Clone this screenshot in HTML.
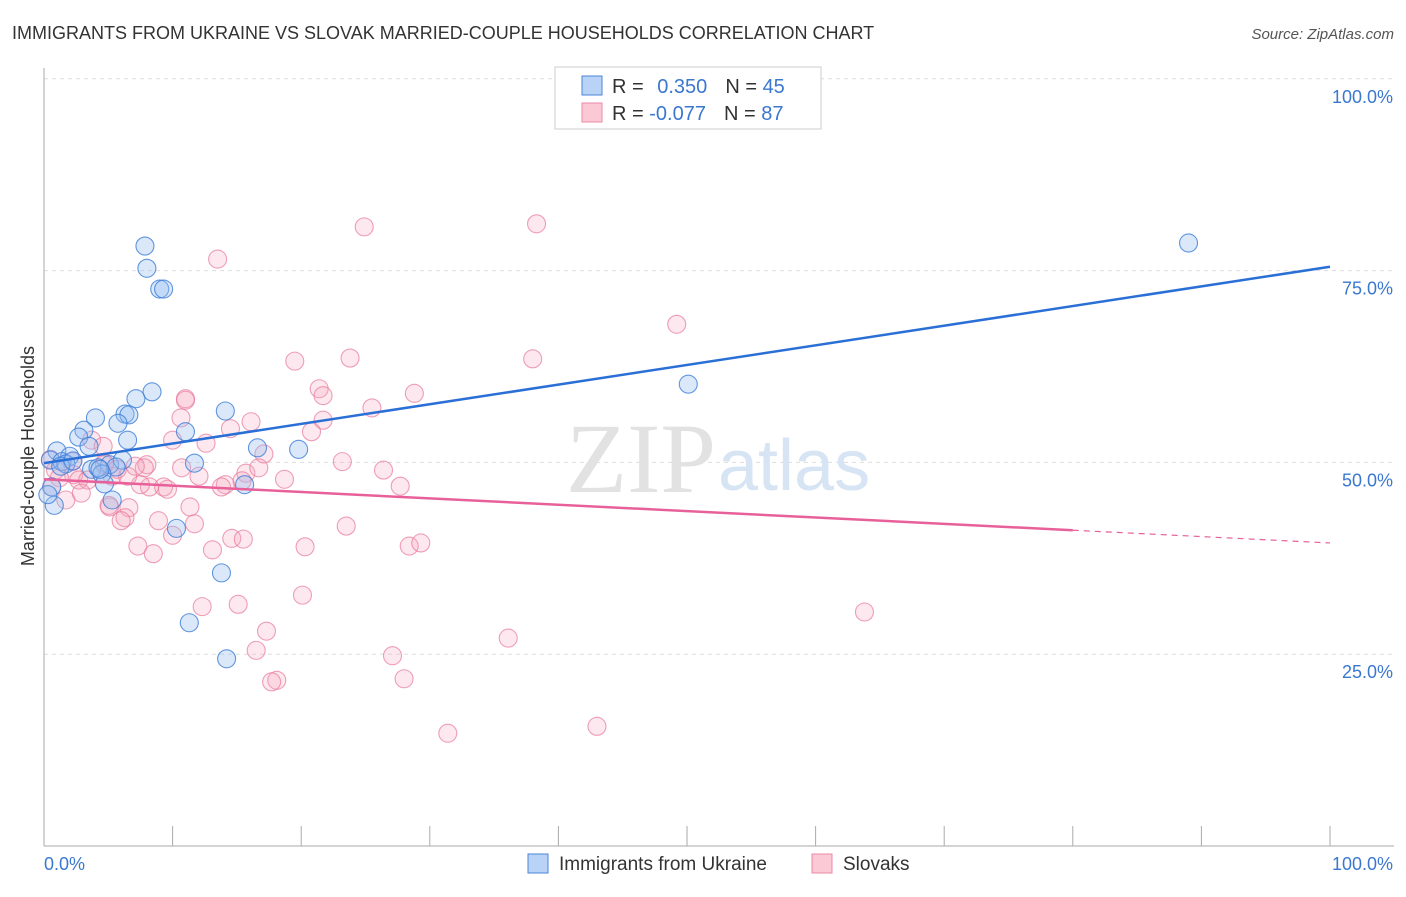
<!DOCTYPE html>
<html><head><meta charset="utf-8"><style>
body{margin:0;background:#fff;font-family:"Liberation Sans",sans-serif;}
</style></head><body>
<svg width="1406" height="892" font-family="Liberation Sans, sans-serif">
<text x="12" y="39" font-size="18" fill="#333">IMMIGRANTS FROM UKRAINE VS SLOVAK MARRIED-COUPLE HOUSEHOLDS CORRELATION CHART</text>
<text x="1394" y="39" font-size="15" fill="#555" font-style="italic" text-anchor="end">Source: ZipAtlas.com</text>
<g id="grid"></g>
<text x="716" y="492" font-size="100" fill="#e2e2e2" text-anchor="end" style="font-family:'Liberation Serif',serif">ZIP</text>
<text x="718" y="490" font-size="72" fill="#d6e4f4">atlas</text>
<g id="pts"></g>
<g id="lines"></g>
<text transform="translate(34,456) rotate(-90)" font-size="18" fill="#333" text-anchor="middle">Married-couple Households</text>
<g>
<rect x="555" y="67" width="266" height="62" fill="#fff" stroke="#ccc"/>
<rect x="582" y="76" width="20" height="19" fill="#b8d3f5" stroke="#4a86d8"/>
<rect x="582" y="103" width="20" height="19" fill="#fbc8d6" stroke="#e88aa5"/>
<text x="612" y="93" font-size="20" fill="#333">R = <tspan fill="#3a78d0" dx="8">0.350</tspan><tspan dx="18" fill="#333">N = </tspan><tspan fill="#3a78d0">45</tspan></text>
<text x="612" y="120" font-size="20" fill="#333">R = <tspan fill="#3a78d0">-0.077</tspan><tspan dx="18" fill="#333">N = </tspan><tspan fill="#3a78d0">87</tspan></text>
</g>
<g>
<rect x="528" y="854" width="20" height="19" fill="#b8d3f5" stroke="#4a86d8"/>
<text x="559" y="870" font-size="19" fill="#333">Immigrants from Ukraine</text>
<rect x="812" y="854" width="20" height="19" fill="#fbc8d6" stroke="#e88aa5"/>
<text x="843" y="870" font-size="19" fill="#333">Slovaks</text>
</g>
</svg>
<script>
const yTicks=[25,50,75,100];
const yTickLabels=["25.0%","50.0%","75.0%","100.0%"];
const xTickVals=[0,10,20,30,40,50,60,70,80,90,100];
const blueX=[89,7.85,8,9,9.3,50.1,8.4,7.15,14.1,4,6.3,6.6,5.75,3.1,11,2.7,6.5,3.5,1,16.6,19.8,2,0.5,1.4,1.7,11.7,5.1,6.1,3.7,4.2,5.6,4.5,4.7,15.6,0.6,0.8,5.3,10.3,13.8,11.3,14.2,0.3,1.3,4.35,2.25];
const blueY=[78.6,78.2,75.3,72.6,72.6,60.2,59.2,58.3,56.7,55.8,56.3,56.2,55.1,54.2,54,53.3,52.9,52.1,51.5,51.9,51.7,50.8,50.3,50.1,49.8,49.9,49.7,50.3,49.1,49.3,49.4,48.5,47.2,47.1,46.8,44.4,45.1,41.4,35.6,29.1,24.4,45.8,49.5,49.1,50.2];
const pinkX=[38.3,24.9,13.5,49.2,23.8,38,19.5,21.4,28.8,11,21.7,25.5,10.65,16.1,21.7,20.8,14.5,10,12.6,3.7,4.6,17.1,23.2,8,7.8,26.4,18.7,27.7,10.7,12.05,15.7,15.4,16.7,14.1,13.8,8.2,7.5,9.3,9.6,0.5,2.2,0.9,2.3,2.7,1.2,3.4,4.7,5.3,6.5,4.7,1.7,2.9,0.6,5.1,6.6,11.35,6.3,6,8.9,11.7,23.5,10,14.6,15.5,7.3,20.3,28.4,29.3,8.5,13.1,20.1,15.1,12.3,63.8,17.3,36.1,16.5,27.1,28,18.1,17.7,43,31.4,5.05,7.1,5.7,11];
const pinkY=[81.1,80.7,76.5,68,63.6,63.5,63.2,59.6,59,58.3,58.7,57.1,55.8,55.3,55.5,54,54.4,52.9,52.5,52.9,52.1,51.1,50.1,49.7,49.3,49,47.8,46.9,49.3,48.2,48.6,47.6,49.3,47.1,46.8,46.8,47.1,46.8,46.5,50.4,50.1,49,48.4,47.7,48,47.7,49.7,48.2,48.2,49.9,45.1,46,46.8,44.2,44.1,44.2,42.8,42.4,42.4,42,41.7,40.5,40.1,40,39.1,39,39.1,39.5,38.1,38.6,32.7,31.5,31.2,30.5,28,27.1,25.5,24.8,21.8,21.6,21.4,15.6,14.7,44.4,49.5,49.1,58.1];
const blueTrend=[49.9,75.5];
const pinkTrend=[47.8,39.5];
const pinkSolidEnd=80;
const NS="http://www.w3.org/2000/svg";
const X=v=>44+v*12.86, Y=v=>846-v*7.672;
function mk(t,a,p){const e=document.createElementNS(NS,t);for(const k in a)e.setAttribute(k,a[k]);p.appendChild(e);return e;}
const g=document.getElementById('grid');
yTicks.forEach((t,i)=>{
 const l=mk('line',{x1:44,x2:1394,y1:Y(t),y2:Y(t),stroke:'#ddd','stroke-dasharray':'4,4'},g);
 
 
 const tx=mk('text',{x:1393,y:Y(t)+24,'font-size':18,fill:'#3a78d0','text-anchor':'end'},g);
 tx.textContent=yTickLabels[i];
 
 
});
mk('line',{x1:44,x2:44,y1:68,y2:846,stroke:'#aaa'},g);
mk('line',{x1:44,x2:1394,y1:846,y2:846,stroke:'#aaa'},g);
xTickVals.forEach(v=>{
 const l=mk('line',{x1:X(v),x2:X(v),y1:826,y2:846,stroke:'#aaa'},g);
 
 
});
const t0=mk('text',{x:44,y:870,'font-size':18,fill:'#3a78d0'},g);t0.textContent='0.0%';


const t1=mk('text',{x:1393,y:870,'font-size':18,fill:'#3a78d0','text-anchor':'end'},g);t1.textContent='100.0%';


const p=document.getElementById('pts');
pinkX.forEach((x,i)=>{
 const c=mk('circle',{cx:X(x),cy:Y(pinkY[i]),r:9,fill:'rgba(245,165,188,0.25)',stroke:'rgba(232,120,155,0.7)','stroke-width':1.1},p);
 
 
});
blueX.forEach((x,i)=>{
 const c=mk('circle',{cx:X(x),cy:Y(blueY[i]),r:9,fill:'rgba(150,190,240,0.35)',stroke:'rgba(60,125,215,0.8)','stroke-width':1.1},p);
 
 
});
const L=document.getElementById('lines');
const bl=mk('line',{x1:X(0),y1:Y(blueTrend[0]),x2:X(100),y2:Y(blueTrend[1]),stroke:'#2a6fd6','stroke-width':2.5},L);


const pm=pinkTrend[0]+(pinkTrend[1]-pinkTrend[0])*pinkSolidEnd/100;
const pl=mk('line',{x1:X(0),y1:Y(pinkTrend[0]),x2:X(pinkSolidEnd),y2:Y(pm),stroke:'#e8609a','stroke-width':2.5},L);


const pd=mk('line',{x1:X(pinkSolidEnd),y1:Y(pm),x2:X(100),y2:Y(pinkTrend[1]),stroke:'#e8609a','stroke-width':1.2,'stroke-dasharray':'6,5'},L);


</script>
</body></html>
